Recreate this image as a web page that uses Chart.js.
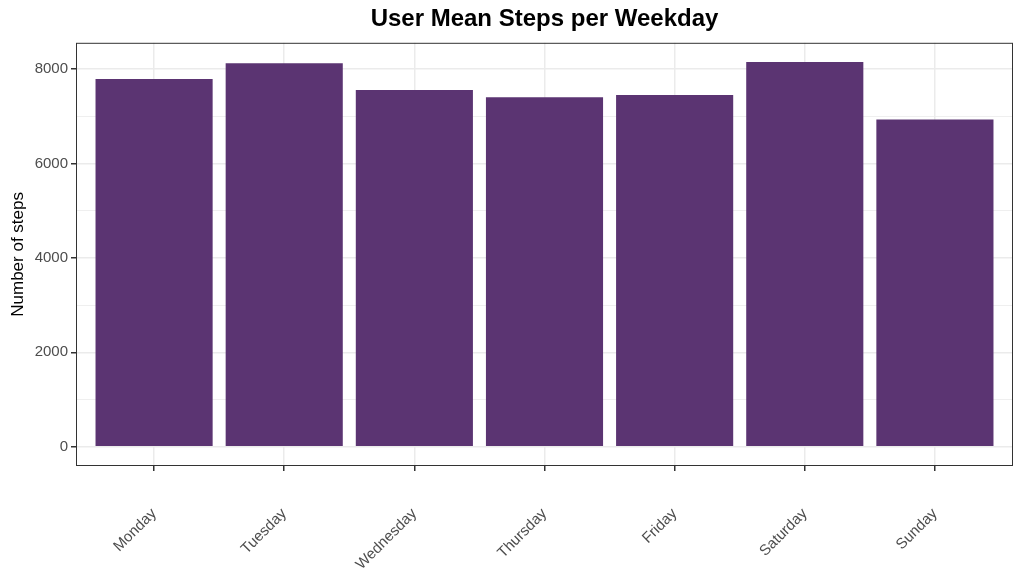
<!DOCTYPE html>
<html>
<head>
<meta charset="utf-8">
<script src="https://cdn.jsdelivr.net/npm/chart.js@4.4.1/dist/chart.umd.min.js"></script>
<style>
  html, body { margin: 0; padding: 0; background: #fff; }
  #wrap { width: 1024px; height: 576px; }
</style>
</head>
<body>
<div id="wrap"><canvas id="chart" width="1024" height="576"></canvas></div>
<script>
const weekdays = ["Monday", "Tuesday", "Wednesday", "Thursday", "Friday", "Saturday", "Sunday"]
const meanSteps = [7790, 8125, 7560, 7405, 7450, 8150, 6935]
const yTicks = [0, 1000, 2000, 3000, 4000, 5000, 6000, 7000, 8000]

const barColor = "#5B3472"
const gridColor = "#EBEBEB"
const inkColor = "#333333"

// ggplot-style expansion: 5% on y, 0.6 units on the discrete x axis
const yMax = Math.max(...meanSteps)
const yPad = yMax * 0.05

const isMajor = (v) => v % 2000 === 0

const panelBorder = {
  id: "panelBorder",
  afterDraw(chart) {
    const { ctx, chartArea: a } = chart
    ctx.save()
    ctx.strokeStyle = inkColor
    ctx.lineWidth = 1
    ctx.strokeRect(a.left + 0.5, a.top + 0.5, a.right - a.left - 1, a.bottom - a.top - 1)
    ctx.restore()
  }
}

new Chart(document.getElementById("chart"), {
  type: "bar",
  data: {
    datasets: [{
      data: weekdays.map((d, i) => ({ x: i + 1, y: meanSteps[i] })),
      backgroundColor: barColor,
      borderWidth: 0,
      barPercentage: 0.9,
      categoryPercentage: 1
    }]
  },
  options: {
    responsive: false,
    animation: false,
    layout: { padding: { top: 0, right: 11, bottom: 0, left: 0 } },
    plugins: {
      legend: { display: false },
      tooltip: { enabled: false },
      title: {
        display: true,
        text: "User Mean Steps per Weekday",
        fullSize: false,
        color: "#000",
        font: { family: "Liberation Sans, Arial, sans-serif", size: 24, weight: "bold" },
        padding: { top: 5, bottom: 9 }
      }
    },
    scales: {
      x: {
        type: "linear",
        min: 0.4,
        max: 7.6,
        offset: false,
        afterBuildTicks: (scale) => { scale.ticks = weekdays.map((d, i) => ({ value: i + 1 })) },
        afterFit: (scale) => { scale.height = 110 },
        grid: {
          offset: false,
          color: gridColor,
          lineWidth: 1.5,
          drawTicks: true,
          tickLength: 5,
          tickColor: inkColor,
          tickWidth: 1.5
        },
        border: { display: false },
        ticks: {
          autoSkip: false,
          minRotation: 45,
          maxRotation: 45,
          padding: 34,
          color: "#4D4D4D",
          font: { family: "Liberation Sans, Arial, sans-serif", size: 15 },
          callback: (v) => weekdays[v - 1]
        }
      },
      y: {
        min: -yPad,
        max: yMax + yPad,
        afterBuildTicks: (scale) => { scale.ticks = yTicks.map((v) => ({ value: v })) },
        afterFit: (scale) => { scale.width = 76 },
        grid: {
          color: gridColor,
          lineWidth: (c) => (c.tick && isMajor(c.tick.value) ? 1.5 : 0.8),
          drawTicks: true,
          tickLength: 5,
          tickColor: (c) => (c.tick && isMajor(c.tick.value) ? inkColor : "rgba(0,0,0,0)"),
          tickWidth: 1.5
        },
        border: { display: false },
        ticks: {
          padding: 3,
          color: "#4D4D4D",
          font: { family: "Liberation Sans, Arial, sans-serif", size: 15 },
          callback: (v) => (isMajor(v) ? String(v) : "")
        },
        title: {
          display: true,
          text: "Number of steps",
          color: "#000",
          font: { family: "Liberation Sans, Arial, sans-serif", size: 17 },
          padding: { top: 8, bottom: 0 }
        }
      }
    }
  },
  plugins: [panelBorder]
})
</script>
</body>
</html>
